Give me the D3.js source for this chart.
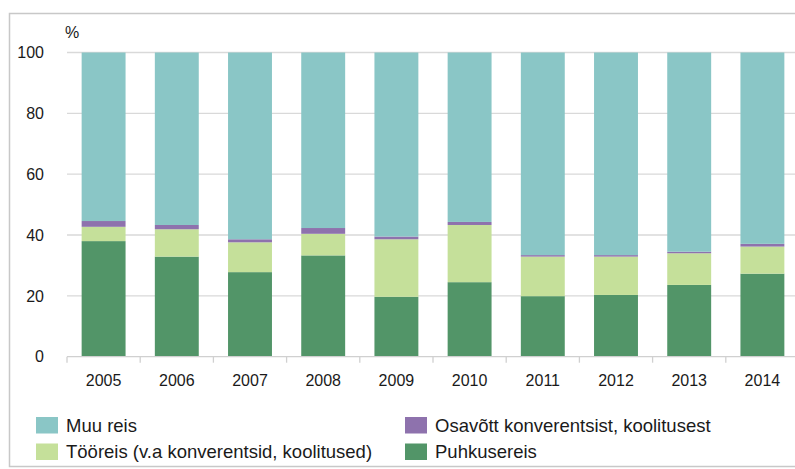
<!DOCTYPE html>
<html>
<head>
<meta charset="utf-8">
<script src="https://d3js.org/d3.v7.min.js"></script>
<style>
    body { margin: 0; background: #fff; }
    text { font-family: "Liberation Sans", Arial, sans-serif; fill: #1a1a1a; }
</style>
</head>
<body>
<div id="chart"></div>
<script>
var years = ["2005", "2006", "2007", "2008", "2009", "2010", "2011", "2012", "2013", "2014"]

// stack order: bottom to top
var puhkusereis = [38.0, 32.9, 27.8, 33.3, 19.7, 24.5, 19.9, 20.3, 23.6, 27.3]
var tooreis = [4.7, 9.0, 9.8, 7.1, 18.9, 18.8, 13.0, 12.6, 10.4, 8.9]
var osavott = [1.9, 1.4, 1.0, 1.9, 0.9, 1.0, 0.5, 0.5, 0.5, 0.9]
var muuReis = [55.4, 56.7, 61.4, 57.7, 60.5, 55.7, 66.6, 66.6, 65.5, 62.9]

var yTicks = [0, 20, 40, 60, 80, 100]

var seriesNames = ["Puhkusereis", "Tööreis (v.a konverentsid, koolitused)", "Osavõtt konverentsist, koolitusest", "Muu reis"]
var seriesColors = ["#529568", "#c5e09a", "#8e72ad", "#8ac6c6"]

var W = 795, H = 469
var m = {top: 52.5, left: 67, right: -4, bottom: 112.3}
var w = W - m.left - m.right
var h = H - m.top - m.bottom

var rows = years.map(function (y, i) {
    return {year: y, s0: puhkusereis[i], s1: tooreis[i], s2: osavott[i], s3: muuReis[i]}
})

var stack = d3.stack().keys(["s0", "s1", "s2", "s3"])(rows)

var svg = d3.select("#chart").append("svg")
    .attr("width", W)
    .attr("height", H)

// outer frame
svg.append("rect")
    .attr("x", 9.5).attr("y", 13.5)
    .attr("width", W).attr("height", 453)
    .attr("fill", "none")
    .attr("stroke", "#c8c8c8")
    .attr("stroke-width", 1.5)

var x = d3.scaleBand().domain(years).range([0, w]).paddingInner(0.4).paddingOuter(0.2)
var y = d3.scaleLinear().domain([0, 100]).range([h, 0])

var g = svg.append("g").attr("transform", "translate(" + m.left + "," + m.top + ")")

// gridlines
g.append("g").selectAll("line")
    .data(yTicks.filter(function (d) { return d > 0 }))
    .enter().append("line")
    .attr("x1", 0).attr("x2", w)
    .attr("y1", function (d) { return y(d) })
    .attr("y2", function (d) { return y(d) })
    .attr("stroke", "#d9d9d9")
    .attr("stroke-width", 1.3)

// bars
g.append("g").selectAll("g")
    .data(stack)
    .enter().append("g")
    .attr("fill", function (d, i) { return seriesColors[i] })
    .selectAll("rect")
    .data(function (d) { return d })
    .enter().append("rect")
    .attr("x", function (d) { return x(d.data.year) })
    .attr("y", function (d) { return y(d[1]) })
    .attr("width", x.bandwidth())
    .attr("height", function (d) { return y(d[0]) - y(d[1]) })

// x axis line and ticks at band boundaries
var step = x.step()
var xAxis = g.append("g").attr("transform", "translate(0," + h + ")")
xAxis.append("line")
    .attr("x1", 0).attr("x2", w)
    .attr("stroke", "#d0d0d0").attr("stroke-width", 1.3)
xAxis.selectAll(".tk")
    .data(d3.range(years.length + 1))
    .enter().append("line")
    .attr("x1", function (i) { return i * step }).attr("x2", function (i) { return i * step })
    .attr("y1", 0).attr("y2", 6)
    .attr("stroke", "#d0d0d0").attr("stroke-width", 1.3)
xAxis.selectAll("text")
    .data(years)
    .enter().append("text")
    .attr("x", function (d) { return x(d) + x.bandwidth() / 2 })
    .attr("y", 29.5)
    .attr("text-anchor", "middle")
    .attr("font-size", 16)
    .text(function (d) { return d })

// y labels
g.append("g").selectAll("text")
    .data(yTicks)
    .enter().append("text")
    .attr("x", -23)
    .attr("y", function (d) { return y(d) })
    .attr("dy", "0.36em")
    .attr("text-anchor", "end")
    .attr("font-size", 16)
    .text(function (d) { return d })

svg.append("text")
    .attr("x", 65).attr("y", 38)
    .attr("font-size", 16)
    .text("%")

// legend: two columns, two rows
var legendOrder = [3, 2, 1, 0]
var legend = svg.append("g")
var lg = legend.selectAll("g")
    .data(legendOrder)
    .enter().append("g")
    .attr("transform", function (d, i) {
        var col = i % 2, row = Math.floor(i / 2)
        return "translate(" + (36 + col * 369) + "," + (417 + row * 26.5) + ")"
    })
lg.append("rect")
    .attr("width", 22).attr("height", 16.5)
    .attr("fill", function (d) { return seriesColors[d] })
lg.append("text")
    .attr("x", 30).attr("y", 14.5)
    .attr("font-size", 18.5)
    .text(function (d) { return seriesNames[d] })
</script>
</body>
</html>
